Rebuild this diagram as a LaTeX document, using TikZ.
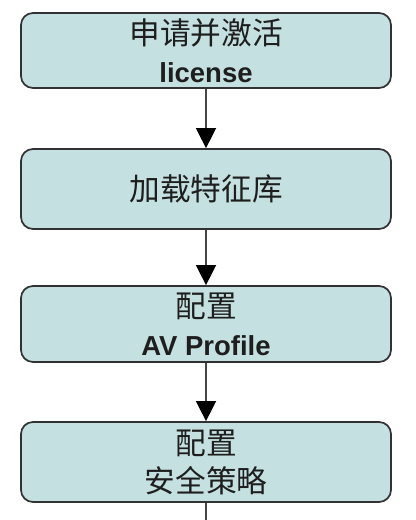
\documentclass[tikz,border=0pt]{standalone}
\usepackage{fontspec}
\setmainfont{Liberation Sans}
\newfontfamily\cjk{Noto Sans CJK SC}
\usetikzlibrary{arrows.meta}
\definecolor{boxfill}{RGB}{197,224,224}
\definecolor{boxline}{RGB}{50,50,50}
\definecolor{arrline}{RGB}{70,70,70}
\definecolor{txt}{RGB}{30,30,30}
\tikzset{
  stepbox/.style={draw=boxline, line width=1.3pt, fill=boxfill, rounded corners=9pt,
    minimum width=277.5pt, inner sep=0pt, align=center, text=txt,
    font=\fontsize{23}{28.5}\selectfont},
  flow/.style={draw=arrline, line width=1.1pt, -{Triangle[length=15pt,width=15pt,color=black]}},
}
\begin{document}
\begin{tikzpicture}[x=0.75pt,y=-0.75pt]
\useasboundingbox (0,0) rectangle (415,520);
\node[stepbox, minimum height=56.25pt] (b1) at (206,50.5) {{\cjk 申请并激活}\\{\fontsize{20.6}{24}\selectfont\bfseries license}};
\node[stepbox, minimum height=60pt] (b2) at (206,189) {\cjk 加载特征库};
\node[stepbox, minimum height=57pt] (b3) at (206,324) {{\cjk 配置}\\{\fontsize{20.6}{24}\selectfont\bfseries AV Profile}};
\node[stepbox, minimum height=60pt] (b4) at (206,462) {{\cjk 配置}\\{\cjk 安全策略}};
\coordinate (end) at (206,525);
\draw[flow] (b1.south) -- (b2.north);
\draw[flow] (b2.south) -- (b3.north);
\draw[flow] (b3.south) -- (b4.north);
\draw[draw=arrline, line width=1.1pt] (b4.south) -- (end);
\end{tikzpicture}
\end{document}
